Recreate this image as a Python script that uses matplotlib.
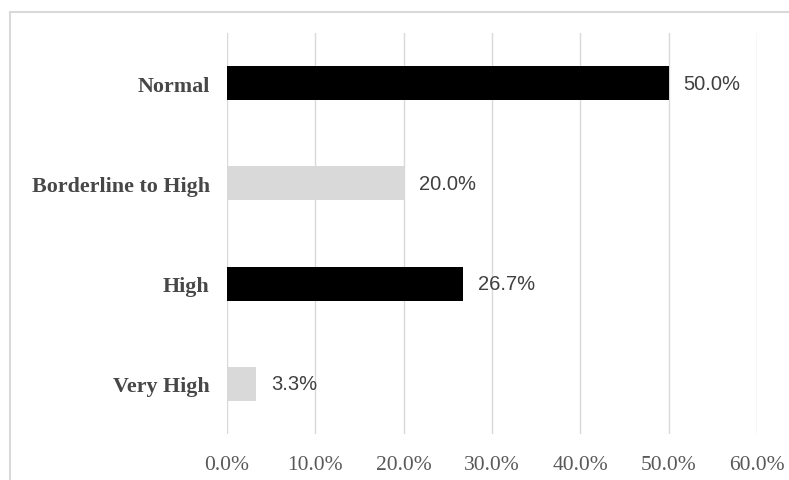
import matplotlib.pyplot as plt
from matplotlib.lines import Line2D

categories = ["Normal", "Borderline to High", "High", "Very High"]
values = [50.0, 20.0, 26.7, 3.3]
bar_colors = ["#000000", "#d9d9d9", "#000000", "#d9d9d9"]
xticks = [0, 10, 20, 30, 40, 50, 60]

fig = plt.figure(figsize=(7.89, 4.81), dpi=100)
ax = fig.add_axes([227 / 789, 1 - 435 / 481, (757 - 227) / 789, (435 - 34) / 481])

ypos = list(range(len(categories)))
ax.barh(ypos, values, height=0.34, color=bar_colors, zorder=3)
ax.set_ylim(len(categories) - 0.5, -0.5)
ax.set_xlim(0, 60)

ax.set_yticks(ypos)
ax.set_yticklabels(categories, family="Liberation Serif", fontweight="bold",
                   fontsize=15.8, color="#474747")
ax.set_xticks(xticks)
ax.set_xticklabels([f"{t:.1f}%" for t in xticks], family="Liberation Serif",
                   fontsize=15.5, color="#595959")
ax.tick_params(axis="both", length=0)
ax.tick_params(axis="y", pad=12.5)
ax.tick_params(axis="x", pad=15)

ax.grid(axis="x", color="#d9d9d9", linewidth=1, zorder=0)
for s in ax.spines.values():
    s.set_visible(False)

for y, v in zip(ypos, values):
    ax.text(v + 1.7, y, f"{v:.1f}%", va="center", ha="left",
            family="Liberation Sans", fontsize=14.5, color="#404040")

# outer chart frame (top and left edges visible)
fx, fy = 9.5 / 789, 1 - 12.5 / 481
fig.add_artist(Line2D([fx, 1.0], [fy, fy], color="#d9d9d9", linewidth=1.5,
                      transform=fig.transFigure))
fig.add_artist(Line2D([fx, fx], [0, fy], color="#d9d9d9", linewidth=1.5,
                      transform=fig.transFigure))

fig.savefig("out.png", dpi=100, facecolor="white")
